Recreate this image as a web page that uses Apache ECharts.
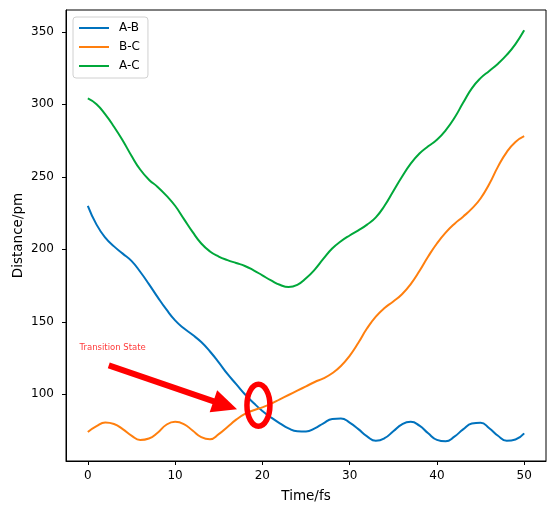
<!DOCTYPE html>
<html lang="en" style="height: 100%">
<head>
  <meta charset="utf-8">
</head>
<body style="height: 100%; margin: 0">
  <div id="container" style="width: 556px; height: 508px"></div>

  <script type="text/javascript" src="https://cdn.jsdelivr.net/npm/echarts@6/dist/echarts.min.js"></script>

  <script type="text/javascript">
    // time axis, 0..50 fs
    var times = [];
    for (var i = 0; i <= 50; i++) times.push(i);

    var abDist = [230, 217, 208, 202, 197, 192, 184.5, 176, 167, 158.5,
                  151, 145.5, 141, 136, 129.5, 122, 114, 107, 100, 94,
                  88.5, 84, 80, 76.5, 74.5, 74.3, 76.5, 80, 83, 83.3,
                  80.5, 76, 71, 68, 69.7, 74.5, 79.3, 81, 78.4, 73.1,
                  68.6, 67.6, 70.8, 75.8, 79.8, 80.4, 76.6, 71.4, 67.9, 68.8, 73];
    var bcDist = [74, 78, 80.5, 79.5, 76, 71.5, 68.5, 69.5, 73.5, 79,
                  81, 79.5, 75, 70.5, 69, 72.5, 77.5, 82.5, 86.5, 89,
                  91, 93.5, 96.5, 99.5, 102.5, 105.5, 108.5, 111, 114.5, 119.5,
                  126.5, 135.5, 145.5, 153.5, 159.5, 164, 169, 176, 185, 195,
                  204, 211.5, 217.5, 222.5, 228, 235, 245, 257, 267, 274, 278];
    var acDist = [304, 300, 293, 284.5, 275, 264.5, 255, 248, 243, 237,
                  230, 221, 212, 204, 198.5, 195, 192.5, 190.5, 188.5, 185.5,
                  182, 178.5, 175.5, 174, 175.5, 180, 186, 193.5, 200.5, 205.5,
                  209.5, 213, 217, 222, 230, 240, 250, 259, 266, 271,
                  275.5, 282, 290.5, 301, 311, 318, 323, 328, 334, 341.5, 351];

    var xTicks = [0, 10, 20, 30, 40, 50];
    var yTicks = [100, 150, 200, 250, 300, 350];

    // annotation anchors in data units
    var labelAt = [-0.95, 132];
    var arrowFrom = [2.4, 120];
    var arrowTo = [17.1, 89.6];
    var ringAt = [19.55, 92.4];

    function pairs(ys) {
      return ys.map(function (y, k) { return [times[k], y]; });
    }

    var dom = document.getElementById('container');
    var myChart = echarts.init(dom, null, { renderer: 'canvas' });

    var font = 'DejaVu Sans';
    var option = {
      animation: false,
      textStyle: { fontFamily: font },
      grid: {
        left: 66, right: 10, top: 10, bottom: 47,
        outerBoundsMode: 'none',
        show: true, borderColor: '#000', borderWidth: 1
      },
      legend: {
        orient: 'vertical',
        left: 73, top: 17,
        padding: [5, 8, 6, 5],
        itemWidth: 30, itemHeight: 14, itemGap: 7,
        itemStyle: { opacity: 0 },
        borderColor: '#d0d0d0', borderWidth: 1, borderRadius: 3,
        backgroundColor: '#fff',
        textStyle: { fontSize: 12, color: '#000', padding: [0, 0, 0, 5] },
        data: ['A-B', 'B-C', 'A-C']
      },
      xAxis: {
        type: 'value', min: -2.5, max: 52.5,
        name: 'Time/fs', nameLocation: 'middle', nameGap: 28,
        nameMoveOverlap: false,
        nameTextStyle: { fontSize: 13.5, color: '#000' },
        axisLine: { onZero: false, lineStyle: { color: '#000' } },
        axisTick: { length: 4, lineStyle: { color: '#000' }, customValues: xTicks },
        axisLabel: { fontSize: 12, color: '#000', margin: 9, customValues: xTicks },
        splitLine: { show: false }
      },
      yAxis: {
        type: 'value', min: 54, max: 365,
        name: 'Distance/pm', nameLocation: 'middle', nameGap: 41,
        nameMoveOverlap: false,
        nameTextStyle: { fontSize: 13.5, color: '#000' },
        axisLine: { show: true, onZero: false, lineStyle: { color: '#000' } },
        axisTick: { show: true, length: 4, lineStyle: { color: '#000' }, customValues: yTicks },
        axisLabel: { fontSize: 12, color: '#000', margin: 12, customValues: yTicks },
        splitLine: { show: false }
      },
      series: [
        { name: 'A-B', type: 'line', data: pairs(abDist), smooth: 0.5, symbol: 'none',
          color: '#0072bd', lineStyle: { width: 2 } },
        { name: 'B-C', type: 'line', data: pairs(bcDist), smooth: 0.5, symbol: 'none',
          color: '#ff7f0e', lineStyle: { width: 2 } },
        { name: 'A-C', type: 'line', data: pairs(acDist), smooth: 0.5, symbol: 'none',
          color: '#00a83a', lineStyle: { width: 2 } }
      ]
    };
    myChart.setOption(option);

    // red hand-drawn style annotation
    var toPx = function (p) { return myChart.convertToPixel({ gridIndex: 0 }, p); };
    var p0 = toPx(arrowFrom), p1 = toPx(arrowTo);
    var dx = p1[0] - p0[0], dy = p1[1] - p0[1];
    var len = Math.sqrt(dx * dx + dy * dy);
    var ux = dx / len, uy = dy / len;
    var headLen = 25, headHalf = 11.5;
    var bx = p1[0] - ux * headLen, by = p1[1] - uy * headLen;
    var lbl = toPx(labelAt), ring = toPx(ringAt);

    myChart.setOption({
      graphic: [
        { type: 'text', x: lbl[0], y: lbl[1], z: 10,
          style: { text: 'Transition State', fill: '#ff3a3a', fontSize: 8.5,
                   fontFamily: 'Comic Sans MS, DejaVu Sans', textVerticalAlign: 'middle' } },
        { type: 'line', z: 10,
          shape: { x1: p0[0], y1: p0[1], x2: bx + ux * 2, y2: by + uy * 2 },
          style: { stroke: '#ff0000', lineWidth: 6 } },
        { type: 'polygon', z: 10,
          shape: { points: [[p1[0], p1[1]],
                            [bx - uy * headHalf, by + ux * headHalf],
                            [bx + uy * headHalf, by - ux * headHalf]] },
          style: { fill: '#ff0000' } },
        { type: 'ellipse', z: 10,
          shape: { cx: ring[0], cy: ring[1], rx: 11.5, ry: 21 },
          style: { stroke: '#ff0000', lineWidth: 5.5, fill: null } }
      ]
    });

    window.addEventListener('resize', myChart.resize);
  </script>
</body>
</html>
